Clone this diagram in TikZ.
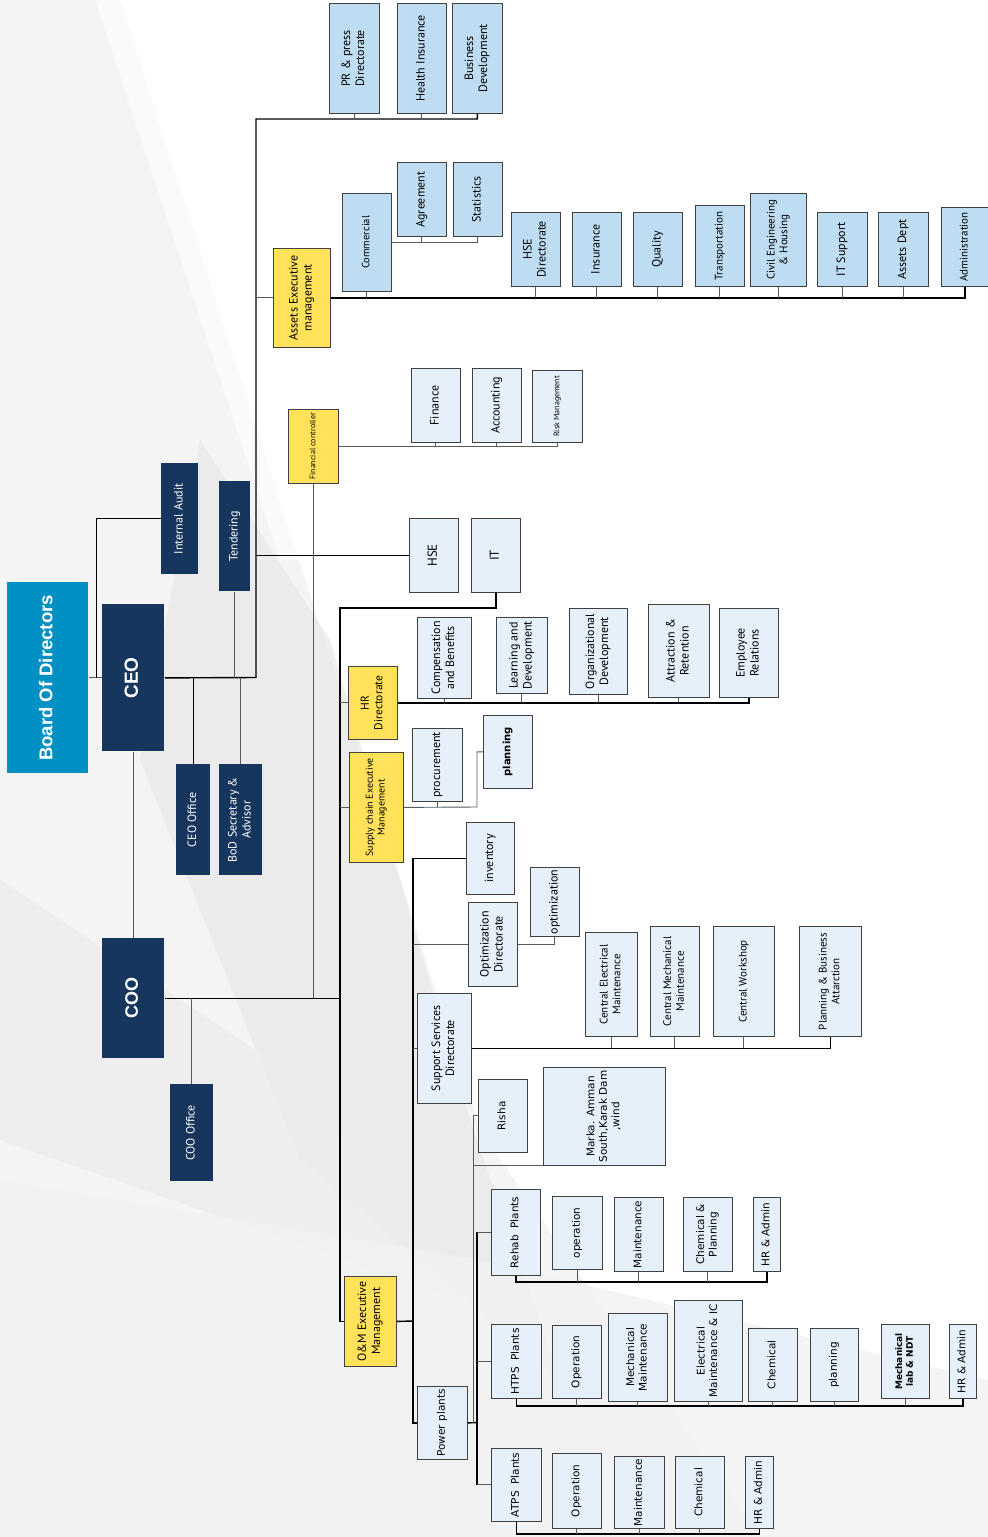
\documentclass[tikz,border=0pt]{standalone}
\usepackage{fontspec}
\setmainfont{PT Sans}
\newfontfamily\arialfont{Liberation Sans}
\newfontfamily\dvfont{DejaVu Sans}
\usepackage{tikz}

\definecolor{boardblue}{RGB}{0,145,196}
\definecolor{navy}{RGB}{23,54,94}
\definecolor{unitgold}{RGB}{255,226,90}
\definecolor{unitblue}{RGB}{190,220,242}
\definecolor{unitpale}{RGB}{229,240,250}

% rotated box text, read bottom to top
\newcommand{\rt}[1]{\rotatebox{90}{\begin{tabular}{@{}c@{}}#1\end{tabular}}}
% style, name, x1, y1, x2, y2 (pixels from top left), text
\newcommand{\orgbox}[7]{\node[#1,anchor=north west,minimum width={#5-#3},minimum height={#6-#4}] (#2) at (#3,#4) {\rt{#7}};}
\newcommand{\fs}[1]{\fontsize{#1}{\the\dimexpr #1pt*118/100\relax}\selectfont}

\tikzset{
	unit/.style={draw=black!75, line width=0.8pt, inner sep=0pt, font=\fontsize{12}{14}\selectfont},
	boardbox/.style={unit, draw=none, fill=boardblue, text=white, font=\arialfont\bfseries\fontsize{18.5}{22}\selectfont},
	navybox/.style={unit, draw=none, fill=navy, text=white},
	chiefbox/.style={navybox, font=\arialfont\bfseries\fontsize{19}{22}\selectfont},
	goldbox/.style={unit, fill=unitgold},
	bluebox/.style={unit, fill=unitblue},
	palebox/.style={unit, fill=unitpale},
	plantbox/.style={palebox, font=\dvfont\fontsize{10.5}{12.5}\selectfont},
	trunk/.style={draw=black, line width=1.4pt},
	drop/.style={draw=black!65, line width=0.9pt},
}

\begin{document}
\begin{tikzpicture}[x=1pt,y=-1pt]
	\useasboundingbox (0,0) rectangle (988,1537);
	% background
	\fill[white] (0,0) rectangle (988,1537);
	\fill[gray!9] (0,0) -- (120,0) -- (270,470) -- (480,1130) -- (760,1537) -- (0,1537) -- cycle;
	\fill[gray!18, opacity=0.7] (200,440) -- (330,640) -- (470,1120) -- (560,1380) -- (300,1160) -- (140,760) -- cycle;
	\fill[gray!14, opacity=0.8] (0,880) -- (300,1080) -- (460,1300) -- (0,1140) -- cycle;
	\fill[gray!10, opacity=0.8] (0,1180) -- (480,1260) -- (988,1380) -- (988,1537) -- (0,1537) -- cycle;
	\fill[white, opacity=0.6] (95,0) -- (125,0) -- (300,560) -- (280,560) -- cycle;

	% board, CEO, COO
	\orgbox{boardbox}{board}{7}{582}{88}{773}{Board Of Directors}
	\orgbox{chiefbox}{ceo}{102}{604}{164}{751}{CEO}
	\orgbox{chiefbox, font=\arialfont\bfseries\fontsize{18}{22}\selectfont}{coo}{102}{938}{164}{1058}{COO}
	\orgbox{navybox}{audit}{161}{463}{198}{574}{Internal Audit}
	\orgbox{navybox}{tender}{219}{481}{250}{591}{Tendering}
	\orgbox{navybox}{ceooff}{176}{764}{210}{875}{CEO Office}
	\orgbox{navybox}{bodsec}{219}{764}{262}{875}{BoD Secretary \&\\ Advisor}
	\orgbox{navybox}{cooff}{170}{1084}{213}{1181}{COO Office}

	% executive units
	\orgbox{goldbox}{assets}{273}{248}{330}{347}{Assets Executive\\ management}
	\orgbox{goldbox, font=\fs{8}}{fincon}{288}{409}{338}{483}{Financial controller}
	\orgbox{goldbox, font=\fs{11.5}}{hr}{348}{666}{397}{739}{HR\\ Directorate}
	\orgbox{goldbox, font=\fs{10}}{scm}{349}{752}{403}{862}{Supply chain Executive\\ Management}
	\orgbox{goldbox}{om}{344}{1276}{396}{1366}{O\&M Executive\\ Management}

	% assets units
	\orgbox{bluebox}{prpress}{329}{3}{379}{113}{PR \& press\\ Directorate}
	\orgbox{bluebox}{health}{397}{3}{446}{113}{Health Insurance}
	\orgbox{bluebox}{bizdev}{452}{3}{502}{113}{Business\\ Development}
	\orgbox{bluebox, font=\fs{10.5}}{commercial}{342}{193}{391}{291}{Commercial}
	\orgbox{bluebox}{agree}{397}{162}{446}{236}{Agreement}
	\orgbox{bluebox}{stats}{453}{162}{502}{236}{Statistics}
	\orgbox{bluebox}{hsedir}{511}{212}{560}{286}{HSE\\ Directorate}
	\orgbox{bluebox}{insurance}{572}{212}{621}{286}{Insurance}
	\orgbox{bluebox}{quality}{633}{212}{682}{286}{Quality}
	\orgbox{bluebox, font=\fs{11}}{transport}{695}{205}{744}{286}{Transportation}
	\orgbox{bluebox, font=\fs{11}}{civil}{750}{193}{806}{286}{Civil Engineering\\ \& Housing}
	\orgbox{bluebox}{itsupport}{817}{212}{867}{286}{IT Support}
	\orgbox{bluebox}{assetsdept}{878}{212}{928}{286}{Assets Dept}
	\orgbox{bluebox, font=\fs{11}}{admin}{941}{207}{988}{286}{Administration}

	% finance, HSE, IT
	\orgbox{palebox}{finance}{411}{368}{460}{442}{Finance}
	\orgbox{palebox}{accounting}{472}{368}{521}{442}{Accounting}
	\orgbox{palebox, font=\fs{8}}{risk}{532}{370}{582}{442}{Risk Management}
	\orgbox{palebox, font=\fs{13}}{hse}{409}{518}{458}{592}{HSE}
	\orgbox{palebox, font=\fs{13}}{it}{471}{518}{520}{592}{IT}

	% HR units
	\orgbox{palebox}{comp}{417}{617}{471}{698}{Compensation\\ and Benefits}
	\orgbox{palebox}{learn}{496}{617}{547}{693}{Learning and\\ Development}
	\orgbox{palebox}{orgdev}{569}{608}{627}{694}{Organizational\\ Development}
	\orgbox{palebox}{attract}{648}{604}{709}{697}{Attraction \&\\ Retention}
	\orgbox{palebox}{emprel}{719}{608}{778}{697}{Employee\\ Relations}

	% supply chain units
	\orgbox{palebox}{procure}{412}{728}{462}{801}{procurement}
	\orgbox{palebox, font=\dvfont\bfseries\fs{10}}{planning}{483}{715}{532}{788}{planning}

	% O&M units
	\orgbox{palebox}{inv}{466}{822}{514}{894}{inventory}
	\orgbox{palebox}{optim}{530}{867}{579}{936}{optimization}
	\orgbox{palebox}{optdir}{468}{902}{517}{986}{Optimization\\ Directorate}
	\orgbox{palebox}{support}{417}{993}{471}{1103}{Support Services\\ Directorate}
	\orgbox{palebox, font=\fs{11}}{cem}{585}{932}{637}{1036}{Central Electrical\\ Maintenance}
	\orgbox{palebox, font=\fs{11}}{cmm}{650}{926}{699}{1036}{Central Mechanical\\ Maintenance}
	\orgbox{palebox, font=\fs{11}}{cws}{713}{926}{774}{1036}{Central Workshop}
	\orgbox{palebox, font=\fs{11}}{planbiz}{799}{926}{861}{1036}{Planning \& Business\\ Attarction}

	% plants
	\orgbox{plantbox}{power}{417}{1386}{467}{1459}{Power plants}
	\orgbox{plantbox}{risha}{478}{1079}{527}{1152}{Risha}
	\orgbox{plantbox}{marka}{543}{1067}{665}{1165}{Marka. Amman\\ South,Karak Dam\\ ,wind}
	\orgbox{plantbox}{rehab}{491}{1189}{540}{1275}{Rehab\ \ Plants}
	\orgbox{plantbox}{op1}{552}{1196}{602}{1269}{operation}
	\orgbox{plantbox}{maint1}{614}{1197}{663}{1271}{Maintenance}
	\orgbox{plantbox}{chemplan}{683}{1197}{732}{1271}{Chemical \&\\ Planning}
	\orgbox{plantbox}{hradm1}{753}{1197}{780}{1271}{HR \& Admin}
	\orgbox{plantbox}{htps}{491}{1324}{541}{1398}{HTPS\ \ Plants}
	\orgbox{plantbox}{op2}{552}{1325}{601}{1398}{Operation}
	\orgbox{plantbox}{mech}{608}{1313}{667}{1401}{Mechanical\\ Maintenance}
	\orgbox{plantbox}{elec}{674}{1300}{742}{1401}{Electrical\\ Maintenance \& IC}
	\orgbox{plantbox}{chem2}{748}{1328}{797}{1401}{Chemical}
	\orgbox{plantbox}{plan2}{810}{1328}{858}{1401}{planning}
	\orgbox{plantbox, font=\dvfont\bfseries\fs{9}}{lab}{881}{1324}{929}{1398}{Mechanical\\ lab \& NDT}
	\orgbox{plantbox}{hradm2}{949}{1324}{976}{1398}{HR \& Admin}
	\orgbox{plantbox}{atps}{491}{1448}{541}{1521}{ATPS\ \ Plants}
	\orgbox{plantbox}{op3}{552}{1453}{601}{1528}{Operation}
	\orgbox{plantbox}{maint3}{614}{1456}{664}{1528}{Maintenance}
	\orgbox{plantbox}{chem3}{675}{1456}{724}{1528}{Chemical}
	\orgbox{plantbox}{hradm3}{745}{1456}{773}{1528}{HR \& Admin}

	% CEO level links
	\coordinate (bj) at (96,677.5);
	\coordinate (ceoT) at (256,677.5);
	\coordinate (topbus) at (256,119);
	\draw[drop] (board.east) -- (ceo.west);
	\draw[trunk, line width=1pt] (bj) |- (audit.west);
	\draw[trunk] (ceo.east) -- (ceoT) -- (topbus) -| (bizdev.south);
	\foreach \n in {prpress,health} \draw[drop] (\n.south) -- (\n.south |- topbus);
	\draw[drop] (tender.south) -- (tender.south |- ceoT);
	\draw[trunk] (ceooff.north) -- (ceooff.north |- ceoT);
	\draw[drop] (bodsec.north) -- (bodsec.north |- ceoT);
	\draw[drop] (ceo.south) -- (coo.north);
	\draw[trunk, line width=1pt] (hse.west -| ceoT) -- (hse.west);

	% assets
	\draw[drop] (assets.west -| topbus) -- (assets.west);
	\draw[trunk] (assets.east) -| (admin.south);
	\foreach \n in {commercial,hsedir,insurance,quality,transport,civil,itsupport,assetsdept}
		\draw[drop] (\n.south) -- (\n.south |- assets.east);
	\draw[drop] (commercial.east) -| (stats.south);
	\draw[drop] (agree.south) -- (agree.south |- commercial.east);

	% finance
	\draw[drop] (fincon.east) -| (risk.south);
	\foreach \n in {finance,accounting} \draw[drop] (\n.south) -- (\n.south |- fincon.east);

	% COO level links
	\coordinate (itT) at (340,608);
	\draw[trunk] (coo.east) -- (coo.east -| itT);
	\draw[drop] (fincon.south) -- (fincon.south |- coo.east);
	\draw[drop] (cooff.north) -- (cooff.north |- coo.east);
	\draw[trunk] (it.south) |- (itT) -- (itT |- om.west) -- (om.west);

	% HR
	\draw[drop] (hr.west -| itT) -- (hr.west);
	\draw[trunk] (hr.east) -| (emprel.south);
	\foreach \n in {comp,learn,orgdev,attract} \draw[drop] (\n.south) -- (\n.south |- hr.east);

	% supply chain
	\coordinate (scmj) at (477,807);
	\draw[drop] (scm.west -| itT) -- (scm.west);
	\draw[drop] (scm.east) -- (scmj) |- (planning.west);
	\draw[drop] (procure.south) -- (procure.south |- scmj);

	% O&M
	\coordinate (omR) at (413,1321);
	\draw[trunk] (om.east) -- (omR);
	\draw[trunk] (inv.west) -| (omR) |- (power.west);
	\foreach \n in {optdir,support} \draw[drop] (\n.west -| omR) -- (\n.west);
	\draw[drop] (optdir.east) -| (optim.south);
	\draw[trunk] (support.east) -| (planbiz.south);
	\foreach \n in {cem,cmm,cws} \draw[drop] (\n.south) -- (\n.south |- support.east);

	% power plants
	\coordinate (ppA) at (473,1422.5);
	\coordinate (ppB) at (477,1422.5);
	\draw[trunk] (power.east) -- (ppB);
	\draw[drop] (ppA) |- (risha.west);
	\draw[drop] (marka.south west -| ppA) -- (marka.south west);
	\draw[trunk] (rehab.west -| ppB) -- (atps.west -| ppB);
	\foreach \n in {rehab,htps,atps} \draw[drop] (\n.west -| ppB) -- (\n.west);

	\path (rehab.south) ++(0,6) coordinate (rowA);
	\draw[trunk] (rehab.south) -- (rowA) -| (hradm1.south);
	\foreach \n in {op1,maint1,chemplan} \draw[drop] (\n.south) -- (\n.south |- rowA);
	\path (htps.south) ++(0,7) coordinate (rowB);
	\draw[trunk] (htps.south) -- (rowB) -| (hradm2.south);
	\foreach \n in {op2,mech,elec,chem2,plan2,lab} \draw[drop] (\n.south) -- (\n.south |- rowB);
	\path (atps.south) ++(0,12) coordinate (rowC);
	\draw[trunk] (atps.south) -- (rowC) -| (hradm3.south);
	\foreach \n in {op3,maint3,chem3} \draw[drop] (\n.south) -- (\n.south |- rowC);
\end{tikzpicture}
\end{document}
